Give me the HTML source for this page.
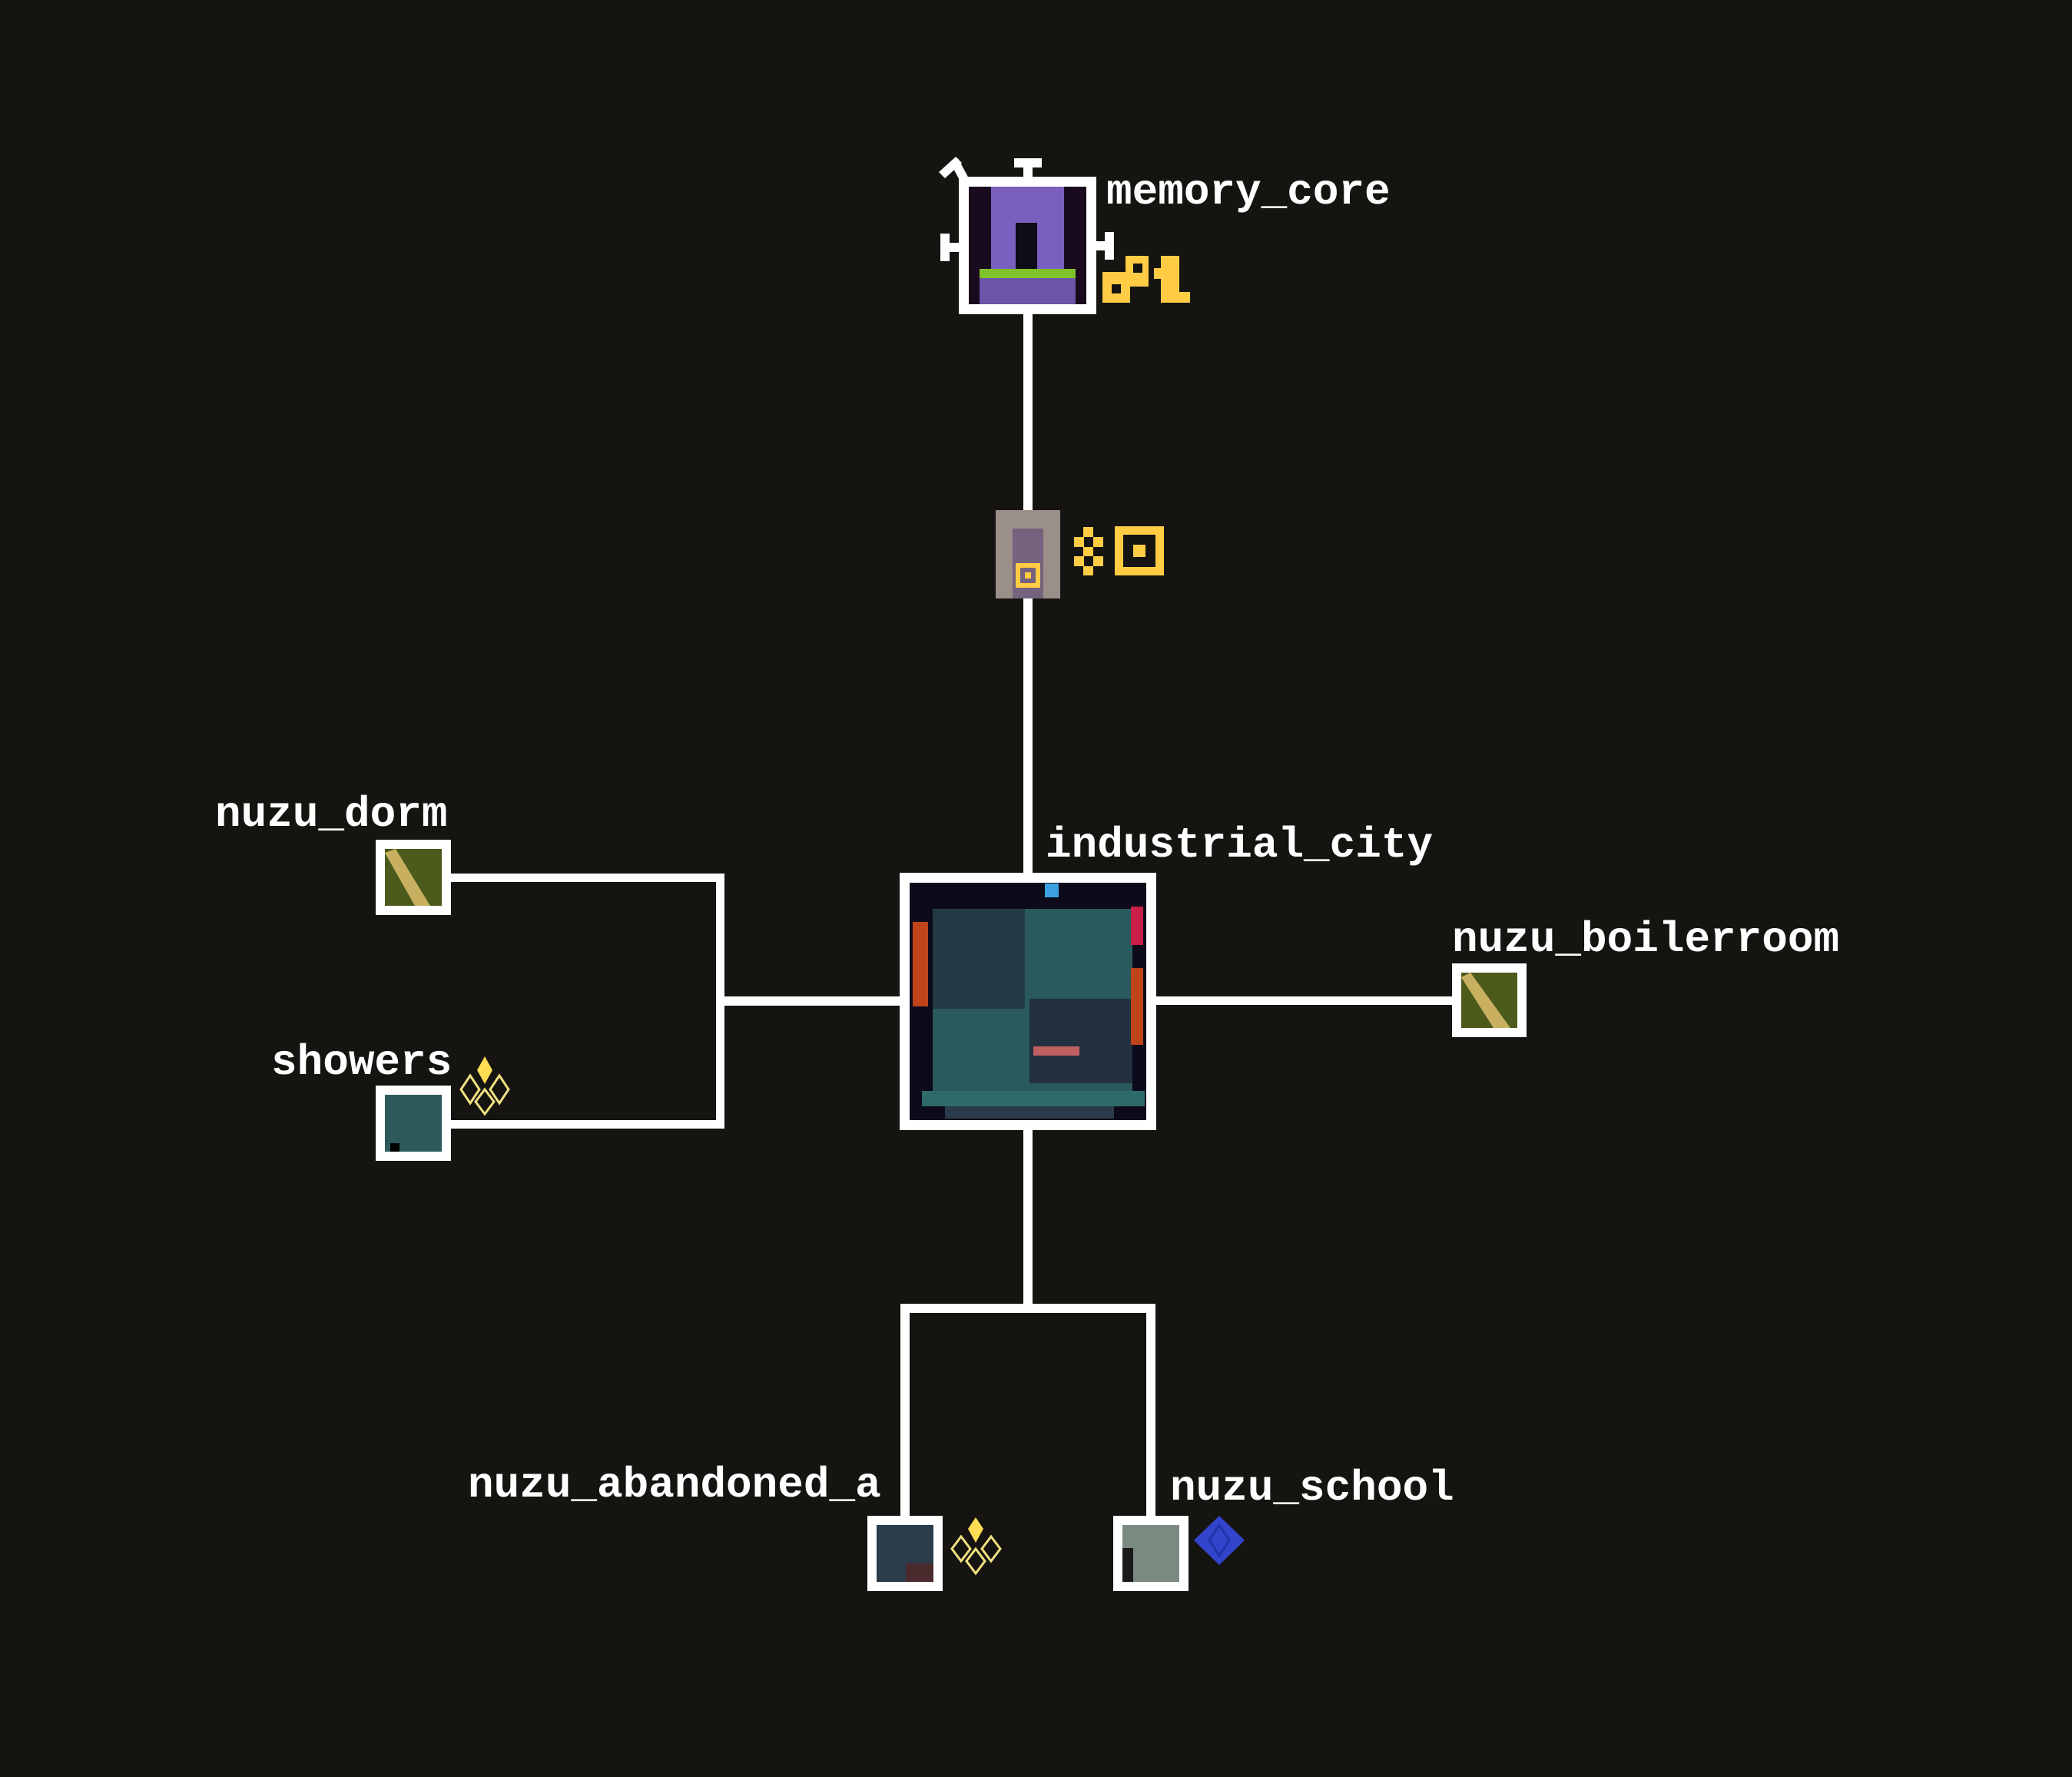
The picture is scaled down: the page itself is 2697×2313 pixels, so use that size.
<!DOCTYPE html>
<html><head><meta charset="utf-8"><style>
html,body{margin:0;padding:0;background:#151410;}
svg{display:block}
text{font-family:"Liberation Mono","DejaVu Sans Mono",monospace;font-weight:bold;font-size:56px;fill:#fff}
</style></head><body>
<svg width="2697" height="2313" viewBox="0 0 2697 2313" xmlns="http://www.w3.org/2000/svg">
<rect width="2697" height="2313" fill="#151410"/>
<!-- connectors -->
<g fill="#fff">
<rect x="1332" y="405" width="12" height="260"/>
<rect x="1332" y="778" width="12" height="360"/>
<rect x="1332" y="1468" width="12" height="235"/>
<rect x="1172" y="1697" width="332" height="12"/>
<rect x="1172" y="1697" width="12" height="278"/>
<rect x="1492" y="1697" width="12" height="278"/>
<rect x="587" y="1137" width="356" height="11"/>
<rect x="932" y="1137" width="11" height="332"/>
<rect x="587" y="1458" width="356" height="11"/>
<rect x="932" y="1297" width="240" height="12"/>
<rect x="1503" y="1297" width="390" height="11"/>
<!-- memory core ticks -->
<rect x="1320" y="206" width="36" height="12"/>
<rect x="1332" y="206" width="12" height="30"/>
<rect x="1224" y="304" width="12" height="36"/>
<rect x="1224" y="316" width="26" height="12"/>
<rect x="1438" y="302" width="12" height="36"/>
<rect x="1425" y="314" width="25" height="12"/>
<polygon points="1222,224 1244,204 1252,212 1230,232"/>
<polygon points="1237,212 1252,240 1262,234 1247,206"/>
</g>
<!-- memory_core node -->
<rect x="1248" y="230" width="179" height="179" fill="#fff"/>
<rect x="1261" y="243" width="153" height="153" fill="#1a0a1e"/>
<rect x="1290" y="243" width="95" height="153" fill="#7b5fbf"/>
<rect x="1322" y="290" width="28" height="60" fill="#0e0c18"/>
<rect x="1275" y="350" width="125" height="12" fill="#7fc22a"/>
<rect x="1275" y="362" width="125" height="34" fill="#6a55a8"/>
<!-- lock node -->
<rect x="1296" y="664" width="84" height="115" fill="#9b8f89"/>
<rect x="1318" y="688" width="40" height="91" fill="#74627e"/>
<rect x="1322" y="733" width="32" height="32" fill="#ffcc44"/>
<rect x="1328" y="739" width="20" height="20" fill="#74627e"/>
<rect x="1334" y="745" width="8" height="8" fill="#ffcc44"/>
<g fill="#ffcc44">
<rect x="1410" y="686" width="13" height="13"/><rect x="1398" y="699" width="13" height="13"/><rect x="1423" y="699" width="13" height="13"/>
<rect x="1410" y="712" width="13" height="12"/><rect x="1398" y="724" width="13" height="13"/><rect x="1423" y="724" width="13" height="13"/>
<rect x="1410" y="737" width="13" height="12"/>
</g>
<rect x="1451" y="685" width="64" height="64" fill="#ffcc44"/>
<rect x="1462" y="696" width="42" height="42" fill="#151410"/>
<rect x="1475" y="709" width="16" height="16" fill="#ffcc44"/>
<!-- key icons by memory -->
<g fill="#ffcc44">
<rect x="1435" y="354" width="36" height="40"/><rect x="1465" y="333" width="30" height="40"/>
<rect x="1511" y="333" width="24" height="60"/><rect x="1511" y="380" width="38" height="14"/><rect x="1502" y="349" width="14" height="14"/>
</g>
<rect x="1447" y="370" width="12" height="12" fill="#151410"/>
<rect x="1475" y="343" width="12" height="12" fill="#151410"/>
<!-- industrial city -->
<rect x="1171" y="1136" width="334" height="335" fill="#fff"/>
<rect x="1184" y="1149" width="308" height="309" fill="#0d0a1a"/>
<rect x="1214" y="1183" width="260" height="250" fill="#2a5a5c"/>
<rect x="1214" y="1183" width="120" height="130" fill="#233a44"/>
<rect x="1340" y="1300" width="134" height="110" fill="#233040"/>
<rect x="1200" y="1420" width="290" height="20" fill="#2f6a6a"/>
<rect x="1230" y="1440" width="220" height="16" fill="#2a3a4a"/>
<rect x="1188" y="1200" width="20" height="110" fill="#c0441a"/>
<rect x="1472" y="1260" width="16" height="100" fill="#c0441a"/>
<rect x="1472" y="1180" width="16" height="50" fill="#c8204a"/>
<rect x="1360" y="1150" width="18" height="18" fill="#3aa0e0"/>
<rect x="1345" y="1362" width="60" height="12" fill="#c06060"/>
<!-- nuzu_dorm -->
<rect x="489" y="1093" width="98" height="98" fill="#fff"/>
<rect x="501" y="1105" width="74" height="74" fill="#4c5a1c"/>
<polygon points="501,1110 515,1105 560,1179 540,1179" fill="#c8b060"/>
<!-- showers -->
<rect x="489" y="1413" width="98" height="98" fill="#fff"/>
<rect x="501" y="1425" width="74" height="74" fill="#2d5a5a"/>
<rect x="508" y="1488" width="12" height="11" fill="#000"/>
<!-- boilerroom -->
<rect x="1890" y="1254" width="97" height="96" fill="#fff"/>
<rect x="1902" y="1266" width="73" height="72" fill="#4c5a1c"/>
<polygon points="1902,1272 1914,1266 1966,1338 1944,1338" fill="#c8b060"/>
<!-- abandoned -->
<rect x="1129" y="1973" width="98" height="98" fill="#fff"/>
<rect x="1141" y="1985" width="74" height="74" fill="#2b3c4a"/>
<rect x="1179" y="2035" width="36" height="24" fill="#4a2a2c"/>
<!-- school -->
<rect x="1449" y="1973" width="98" height="98" fill="#fff"/>
<rect x="1461" y="1985" width="74" height="74" fill="#7a8a80"/>
<rect x="1461" y="2015" width="14" height="44" fill="#1a1a1a"/>
<!-- diamond icons -->
<g>
<polygon points="631,1375 641,1393 631,1411 621,1393" fill="#ffdd55"/>
<g fill="none" stroke="#f0e080" stroke-width="3">
<polygon points="612,1400 624,1418 612,1436 600,1418"/>
<polygon points="650,1400 662,1418 650,1436 638,1418"/>
<polygon points="631,1418 643,1434 631,1450 619,1434"/>
</g>
<polygon points="1270,1975 1280,1990 1270,2008 1260,1990" fill="#ffdd55"/>
<g fill="none" stroke="#f0e080" stroke-width="3">
<polygon points="1251,2000 1263,2016 1251,2032 1239,2016"/>
<polygon points="1290,2000 1302,2016 1290,2032 1278,2016"/>
<polygon points="1270,2016 1282,2032 1270,2048 1258,2032"/>
</g>
<polygon points="1587,1973 1620,2005 1587,2037 1554,2005" fill="#3344cc"/>
<polygon points="1587,1985 1600,2005 1587,2025 1574,2005" fill="none" stroke="#2233aa" stroke-width="3"/>
</g>
<!-- labels -->
<text x="1440" y="265">memory_core</text>
<text x="1361" y="1115">industrial_city</text>
<text x="280" y="1075">nuzu_dorm</text>
<text x="353" y="1398">showers</text>
<text x="1890" y="1238">nuzu_boilerroom</text>
<text x="609" y="1948">nuzu_abandoned_a</text>
<text x="1523" y="1952">nuzu_school</text>
</svg>
</body></html>
